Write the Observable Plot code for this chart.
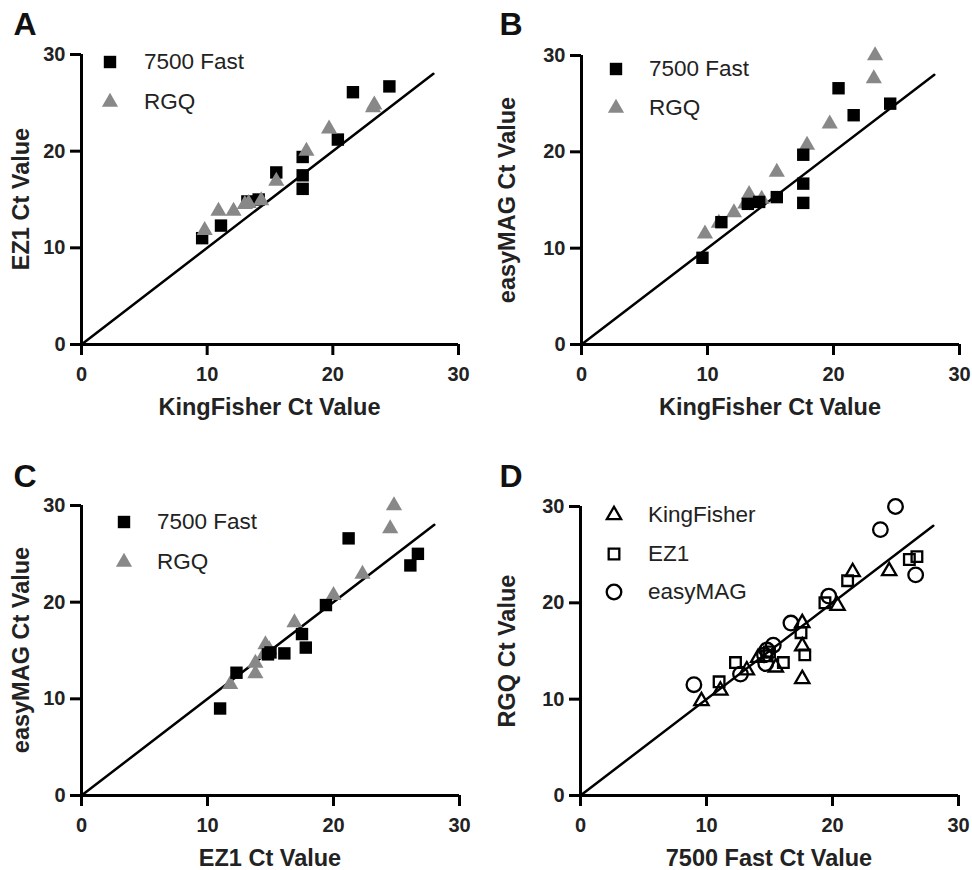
<!DOCTYPE html>
<html>
<head>
<meta charset="utf-8">
<script src="https://cdn.jsdelivr.net/npm/d3@7"></script>
<script src="https://cdn.jsdelivr.net/npm/@observablehq/plot@0.6"></script>
<style>
  html, body { margin: 0; padding: 0; background: #fff; }
  #fig { position: relative; width: 972px; height: 870px; overflow: hidden;
         font-family: "Liberation Sans", Arial, Helvetica, sans-serif; color: #222; }
  .panel { position: absolute; }
  .lbl { position: absolute; white-space: nowrap; line-height: 1; transform: translate(-50%, -50%); }
  .lbl.left { transform: translate(0, -50%); }
  .lbl.rot { transform: translate(-50%, -50%) rotate(-90deg); }
  .sym { position: absolute; overflow: visible; }
</style>
</head>
<body>
<div id="fig"></div>
<script>
// ---- Data: Ct values per sample (11 samples) ----
const kingfisher7500 = [9.6, 11.1, 13.2, 14.1, 15.5, 17.6, 17.6, 17.6, 20.4, 21.6, 24.5];
const kingfisherRGQ  = [9.8, 10.9, 13.0, 14.3, 13.3, 17.9, 15.5, 12.1, 19.7, 23.2, 23.3];
const ez1_7500       = [11.0, 12.3, 14.8, 15.0, 17.8, 19.4, 17.5, 16.1, 21.2, 26.1, 26.7];
const ez1RGQ         = [11.8, 13.8, 14.5, 14.9, 14.6, 20.0, 16.9, 13.8, 22.3, 24.5, 24.8];
const easymag7500    = [9.0, 12.7, 14.6, 14.8, 15.3, 19.7, 16.7, 14.7, 26.6, 23.8, 25.0];
const easymagRGQ     = [11.5, 12.6, 14.6, 15.1, 15.6, 20.7, 17.9, 13.7, 22.9, 27.6, 30.0];

const axisTicks = [0, 10, 20, 30];
const axisDomain = [0, 30];
const identityLine = [0, 28];

const panelLetters = ["A", "B", "C", "D"];
const xTitles = ["KingFisher Ct Value", "KingFisher Ct Value", "EZ1 Ct Value", "7500 Fast Ct Value"];
const yTitles = ["EZ1 Ct Value", "easyMAG Ct Value", "easyMAG Ct Value", "RGQ Ct Value"];
const instrumentNames = ["7500 Fast", "RGQ"];
const methodNames = ["KingFisher", "EZ1", "easyMAG"];

// ---- Styles ----
const GREY = "#888888";
const filledSquare = {symbol: "square", r: 7, fill: "#000", stroke: "none", strokeWidth: 0};
const filledTriangle = {symbol: "triangle", r: 6, fill: GREY, stroke: "none", strokeWidth: 0};
const openTriangle = {symbol: "triangle", r: 5.3, fill: "none", stroke: "#000", strokeWidth: 2.3};
const openSquare = {symbol: "square", r: 6, fill: "none", stroke: "#000", strokeWidth: 2.3};
const openCircle = {symbol: "circle", r: 7.3, fill: "none", stroke: "#000", strokeWidth: 2.3};

const pairs = (xs, ys) => xs.map((x, i) => ({x, y: ys[i]}));

const panels = [
  { left: 0, top: 0, m: [54, 28, 91, 81],
    series: [
      {name: instrumentNames[0], data: pairs(kingfisher7500, ez1_7500), st: filledSquare},
      {name: instrumentNames[1], data: pairs(kingfisherRGQ, ez1RGQ), st: filledTriangle}
    ],
    letterY: 24,
    legend: {x: 110, y: 62, tx: 144, gap: 40} },
  { left: 486, top: 0, m: [55, 13, 91, 95],
    series: [
      {name: instrumentNames[1], data: pairs(kingfisherRGQ, easymagRGQ), st: filledTriangle},
      {name: instrumentNames[0], data: pairs(kingfisher7500, easymag7500), st: filledSquare}
    ],
    legendOrder: [1, 0],
    letterY: 24,
    legend: {x: 616, y: 69, tx: 649, gap: 39} },
  { left: 0, top: 435, m: [70, 27, 75, 81],
    series: [
      {name: instrumentNames[1], data: pairs(ez1RGQ, easymagRGQ), st: filledTriangle},
      {name: instrumentNames[0], data: pairs(ez1_7500, easymag7500), st: filledSquare}
    ],
    legendOrder: [1, 0],
    letterY: 41,
    legend: {x: 124, y: 522, tx: 157, gap: 40} },
  { left: 486, top: 435, m: [71, 14, 75, 94],
    series: [
      {name: methodNames[0], data: pairs(kingfisher7500, kingfisherRGQ), st: openTriangle},
      {name: methodNames[1], data: pairs(ez1_7500, ez1RGQ), st: openSquare},
      {name: methodNames[2], data: pairs(easymag7500, easymagRGQ), st: openCircle}
    ],
    letterY: 41,
    legend: {x: 614, y: 515, tx: 648, gap: 38.5} }
];

const fig = document.getElementById("fig");

function addLabel(text, x, y, opts = {}) {
  const d = document.createElement("div");
  d.className = "lbl" + (opts.cls ? " " + opts.cls : "");
  d.textContent = text;
  d.style.left = x + "px";
  d.style.top = y + "px";
  d.style.fontSize = (opts.size || 21) + "px";
  d.style.fontWeight = opts.weight || "normal";
  if (opts.color) d.style.color = opts.color;
  fig.appendChild(d);
}

function addSymbol(st, cx, cy) {
  const ns = "http://www.w3.org/2000/svg";
  const svg = document.createElementNS(ns, "svg");
  svg.setAttribute("class", "sym");
  svg.setAttribute("width", 30);
  svg.setAttribute("height", 30);
  svg.style.left = (cx - 15) + "px";
  svg.style.top = (cy - 15) + "px";
  const symType = {square: d3.symbolSquare, triangle: d3.symbolTriangle, circle: d3.symbolCircle}[st.symbol];
  const p = document.createElementNS(ns, "path");
  p.setAttribute("d", d3.symbol(symType, Math.PI * st.r * st.r)());
  p.setAttribute("transform", "translate(15,15)");
  p.setAttribute("fill", st.fill);
  p.setAttribute("stroke", st.stroke);
  p.setAttribute("stroke-width", st.strokeWidth);
  svg.appendChild(p);
  fig.appendChild(svg);
}

panels.forEach((P, k) => {
  const [mt, mr, mb, ml] = P.m;
  const chart = Plot.plot({
    width: 486,
    height: 435,
    marginTop: mt, marginRight: mr, marginBottom: mb, marginLeft: ml,
    style: {background: "transparent", fontFamily: "'Liberation Sans', Arial, sans-serif",
            fontSize: "20px", fontWeight: "bold", color: "#222", overflow: "visible"},
    x: {domain: axisDomain, ticks: axisTicks, label: null},
    y: {domain: axisDomain, ticks: axisTicks, label: null},
    marks: [
      Plot.axisX({ticks: axisTicks, tickSize: 11, tickPadding: 11, strokeWidth: 3, stroke: "#000", label: null}),
      Plot.axisY({ticks: axisTicks, tickSize: 11, tickPadding: 5, strokeWidth: 3, stroke: "#000", label: null}),
      Plot.ruleY([axisDomain[0]], {stroke: "#000", strokeWidth: 3}),
      Plot.ruleX([axisDomain[0]], {stroke: "#000", strokeWidth: 3}),
      Plot.line(identityLine, {x: d => d, y: d => d, stroke: "#000", strokeWidth: 2.5}),
      ...P.series.map(s => Plot.dot(s.data, {x: "x", y: "y", ...s.st}))
    ]
  });
  chart.classList.add("panel");
  chart.style.left = P.left + "px";
  chart.style.top = P.top + "px";
  fig.appendChild(chart);

  // axis titles
  const x0 = P.left + ml, x1 = P.left + 486 - mr;
  const y0 = P.top + 435 - mb, y1 = P.top + mt;
  addLabel(xTitles[k], (x0 + x1) / 2, y0 + 64, {size: 23.5, weight: "bold"});
  addLabel(yTitles[k], P.left + 22, (y0 + y1) / 2, {size: 23.5, weight: "bold", cls: "rot"});
  // panel letter
  addLabel(panelLetters[k], P.left + 25, P.top + P.letterY, {size: 32, weight: "bold", color: "#111"});

  // legend
  const order = P.legendOrder || P.series.map((_, i) => i);
  order.forEach((si, j) => {
    const s = P.series[si];
    const cy = P.legend.y + j * P.legend.gap;
    addSymbol(s.st, P.legend.x, cy);
    addLabel(s.name, P.legend.tx, cy, {size: 22.5, cls: "left"});
  });
});
</script>
</body>
</html>
